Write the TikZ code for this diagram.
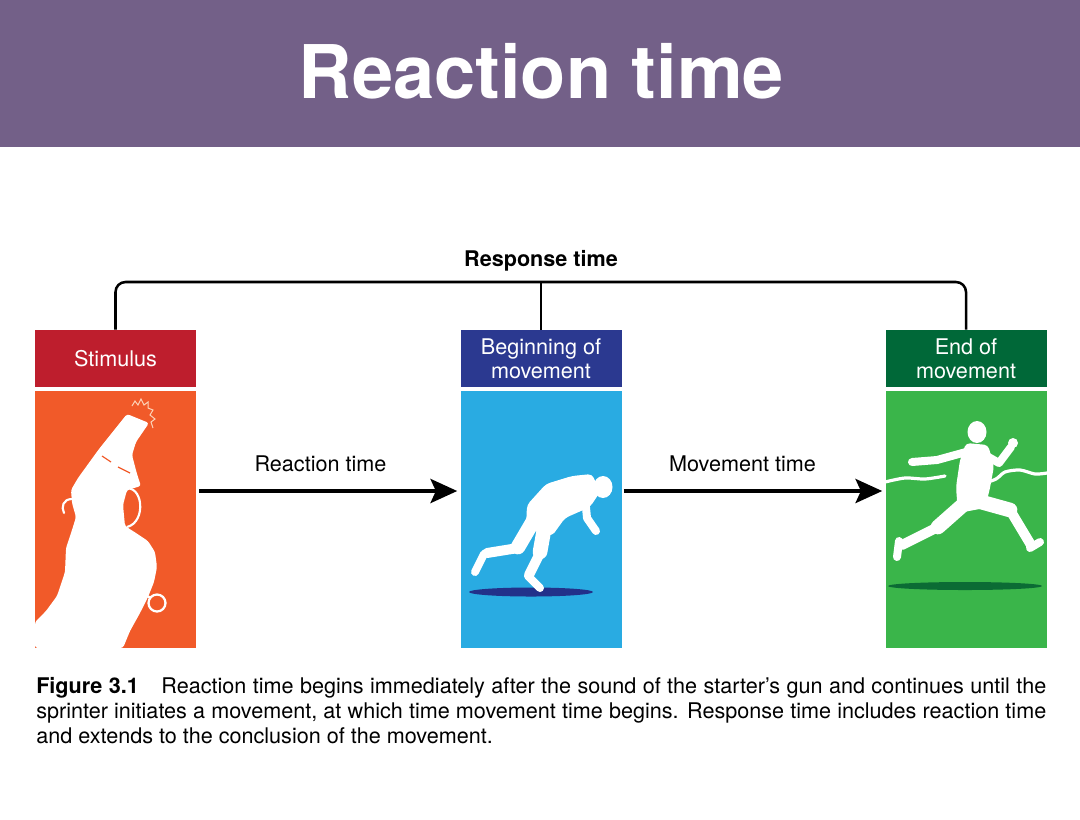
\documentclass[tikz,border=0pt]{standalone}
\usepackage{fontspec}
\setmainfont{TeX Gyre Heros}
\usetikzlibrary{arrows.meta}
\definecolor{hdrpurple}{HTML}{736088}
\definecolor{stimred}{HTML}{BE1E2D}
\definecolor{stimorange}{HTML}{F15A29}
\definecolor{begdark}{HTML}{2B3990}
\definecolor{beglight}{HTML}{29ABE2}
\definecolor{enddark}{HTML}{006838}
\definecolor{endlight}{HTML}{3AB54A}
\definecolor{blueshadow}{HTML}{22318A}
\definecolor{greenshadow}{HTML}{0B6B34}
\definecolor{spark}{HTML}{FCD3B8}
\tikzset{
  labelbox/.style={draw=none, minimum width=120.75pt, minimum height=42.75pt, inner sep=0pt,
    text=white, align=center, font=\fontsize{16.2}{18}\selectfont},
  panelbox/.style={draw=none, minimum width=120.75pt, minimum height=192.75pt, inner sep=0pt},
  bracketline/.style={draw=black, line width=1.9pt, rounded corners=7.5pt},
  timearrow/.style={draw=black, line width=3pt, -{Stealth[length=20pt,width=18pt,inset=4pt]}},
  labeltext/.style={font=\fontsize{16.2}{18}\selectfont, inner sep=0pt},
  captext/.style={font=\fontsize{16.2}{18.75}\selectfont, inner sep=0pt, anchor=base west},
  limb/.style={draw=white, line cap=round, line join=round},
}
\begin{document}
\begin{tikzpicture}[x=0.75pt,y=-0.75pt]
\useasboundingbox (0,0) rectangle (1080,819);
\fill[white] (0,0) rectangle (1080,819);
% header
\fill[hdrpurple] (0,0) rectangle (1080,147);
\node (title) [anchor=base, text=white, inner sep=0pt, font=\fontsize{55.5}{60}\selectfont\bfseries] at (541.5,98) {Reaction time};

% label boxes and panels
\node (stim) [labelbox, fill=stimred] at (115.5,358.5) {Stimulus};
\node (stimpanel) [panelbox, fill=stimorange] at (115.5,519.5) {};
\node (beg) [labelbox, fill=begdark] at (541,358.5) {Beginning of\\movement};
\node (begpanel) [panelbox, fill=beglight] at (541,519.5) {};
\node (endm) [labelbox, fill=enddark] at (966,358.5) {End of\\movement};
\node (endpanel) [panelbox, fill=endlight] at (966,519.5) {};

% response time bracket
\coordinate (top) at (541,282);
\node (resp) [labeltext, font=\fontsize{16.2}{18}\selectfont\bfseries, anchor=base] at (541,266) {Response time};
\draw[bracketline] (stim.north) |- (top) -| (endm.north);
\draw[bracketline] (beg.north) -- (beg.north |- top);

% arrows
\coordinate (arow) at (0,491);
\draw[timearrow, shorten <=2.25pt, shorten >=2.25pt] (stimpanel.east |- arow) -- (begpanel.west |- arow);
\draw[timearrow, shorten <=1.5pt, shorten >=2.25pt] (begpanel.east |- arow) -- (endpanel.west |- arow);
\node (rt) [labeltext, anchor=base] at (320.5,471) {Reaction time};
\node (mt) [labeltext, anchor=base] at (742.5,471) {Movement time};

% ---------- gun in hand ----------
\fill[white, rounded corners=2pt]
  (127,414) -- (149,423) -- (136,442) -- (132,455) -- (137,474) -- (141,486)
  -- (127,490) -- (123,505) -- (125,526) -- (136,533) -- (148,541) -- (155,552)
  -- (157,567) -- (154,582) -- (148,597) -- (140,613) -- (130,631) -- (123,648)
  -- (35,648) -- (35,622) -- (46,611) -- (57,596) -- (65,572) -- (66,548)
  -- (72,530) -- (76,517) -- (72,503) -- (71,490) -- (78,478) -- (99,449) -- cycle;
\draw[white, line width=1.6pt] (124,489) .. controls (143,483) and (147,522) .. (127,527);
\draw[white, line width=1.6pt, line cap=round] (72,499) .. controls (63,499) and (61,507) .. (64,513);
\draw[stimorange, line width=0.9pt] (102,456) -- (111,462);
\draw[stimorange, line width=0.9pt] (118,467) -- (130,473);
\draw[spark, line width=0.75pt, line join=miter]
  (132,406) -- (135,401) -- (138,405) -- (141,399) -- (144,405) -- (148,402)
  -- (148,408) -- (153,410) -- (150,415) -- (155,419) -- (151,422) -- (153,428);
\draw[white, line width=1.7pt] (157,603) circle (8.5);
\draw[white, line width=1.7pt] (147,596) -- (151,598);

% ---------- starting sprinter ----------
\fill[blueshadow] (531,592) ellipse (62 and 4.5);
\fill[white, rounded corners=3pt] (546,484) -- (572,476) -- (592,474) -- (600,492) -- (590,507)
  -- (565,518) -- (552,536) -- (526,528) -- (527,505) -- cycle;
\fill[white] (603,487) ellipse (9.5 and 11);
\draw[limb, line width=6pt] (585,497) -- (587,518) -- (596,531);
\draw[limb, line width=11pt] (535,518) -- (518,547);
\draw[limb, line width=7.5pt] (518,548) -- (487,553);
\draw[limb, line width=6pt] (484,554) -- (475,572);
\draw[limb, line width=11pt] (545,524) -- (540,552);
\draw[limb, line width=7.5pt] (540,553) -- (529,575);
\draw[limb, line width=6pt] (528,576) -- (540,588);

% ---------- finishing runner ----------
\fill[greenshadow] (965,586) ellipse (77 and 4);
\draw[white, line width=2.4pt, line cap=round] plot[smooth] coordinates {(885,482) (905,478) (925,479) (945,476)};
\draw[white, line width=2.4pt, line cap=round] plot[smooth] coordinates {(982,484) (996,479) (1005,472) (1020,470) (1035,474) (1047,473)};
\fill[white] (977,432) ellipse (9.5 and 11);
\fill[white, rounded corners=3pt] (966,443) -- (988,445) -- (994,466) -- (990,488) -- (985,508)
  -- (958,513) -- (956,487) -- (960,460) -- cycle;
\draw[limb, line width=6pt] (966,452) -- (937,460) -- (912,462);
\draw[limb, line width=6pt] (985,455) -- (999,463) -- (1011,447);
\fill[white] (1013,443) circle (5);
\draw[limb, line width=11pt] (964,504) -- (938,527);
\draw[limb, line width=7.5pt] (938,527) -- (902,545);
\draw[limb, line width=6pt] (899,541) -- (897,557);
\draw[limb, line width=11pt] (974,500) -- (1010,510);
\draw[limb, line width=7.5pt] (1010,510) -- (1031,545);
\draw[limb, line width=6pt] (1030,548) -- (1040,542);

% ---------- caption ----------
\node (cap1) [captext] at (36,693) {\makebox[757.5pt][s]{\textbf{Figure 3.1}\hspace{17pt}Reaction time begins immediately after the sound of the starter’s gun and continues until the}};
\node (cap2) [captext] at (36,718) {\makebox[757.5pt][s]{sprinter initiates a movement, at which time movement time begins. Response time includes reaction time}};
\node (cap3) [captext] at (36,743) {and extends to the conclusion of the movement.};
\end{tikzpicture}
\end{document}
